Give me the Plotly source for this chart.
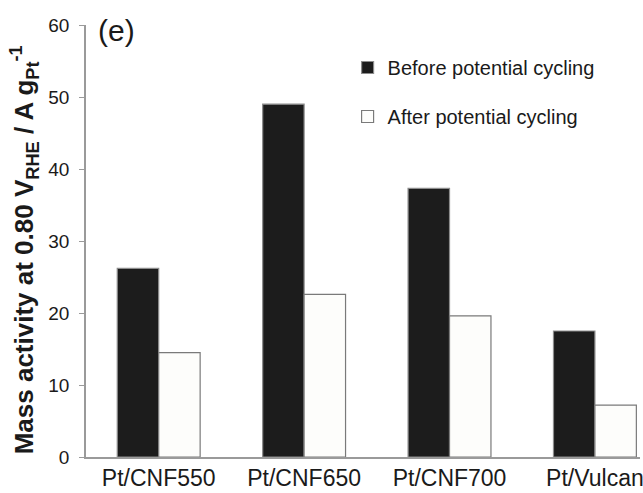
import plotly.graph_objects as go

# Mass activity of Pt catalysts before and after potential cycling
catalysts = ["Pt/CNF550", "Pt/CNF650", "Pt/CNF700", "Pt/Vulcan"]
before_cycling = [26.2, 49.0, 37.3, 17.5]
after_cycling = [14.5, 22.6, 19.6, 7.2]
y_ticks = [0, 10, 20, 30, 40, 50, 60]

W, H = 643, 493
L, R, T, B = 86, 0, 25, 36
PW, PH = W - L - R, H - T - B

fig = go.Figure()
fig.add_trace(go.Bar(
    x=catalysts, y=before_cycling, name="Before potential cycling",
    legendgroup="before",
    marker=dict(color="#1c1c1c", line=dict(color="#8c8c8c", width=1.2)),
))
fig.add_trace(go.Bar(
    x=catalysts, y=after_cycling, name="After potential cycling",
    legendgroup="after",
    marker=dict(color="#fdfdfb", line=dict(color="#7a7a7a", width=1.2)),
))

fig.update_layout(
    width=W, height=H,
    margin=dict(l=L, r=R, t=T, b=B, pad=0),
    paper_bgcolor="white", plot_bgcolor="white",
    barmode="group", bargap=0.43, bargroupgap=0,
    font=dict(family="Liberation Sans, Arial, sans-serif", color="#1a1a1a"),
    showlegend=True,
    legend=dict(
        x=(349 - L) / PW, y=(H - B - 48) / PH,
        xanchor="left", yanchor="top",
        font=dict(size=20, color="#1a1a1a"),
        bgcolor="rgba(0,0,0,0)", borderwidth=0,
        tracegroupgap=20,
    ),
    xaxis=dict(
        range=[-0.5, 3.31],
        showline=True, linecolor="#9a9a9a", linewidth=1.5,
        ticks="", showgrid=False, zeroline=False,
        tickfont=dict(size=23, color="#1a1a1a"),
    ),
    yaxis=dict(
        range=[0, 60], tickvals=y_ticks,
        showline=True, linecolor="#9a9a9a", linewidth=1.5,
        ticks="outside", ticklen=5, tickcolor="#9a9a9a", tickwidth=1.2,
        ticklabelstandoff=6,
        showgrid=False, zeroline=False,
        tickfont=dict(size=19, color="#1a1a1a"),
    ),
)

# Panel label
fig.add_annotation(
    text="(e)", xref="paper", yref="paper",
    x=(96 - L) / PW, y=(H - B - 31) / PH,
    xanchor="left", yanchor="middle", showarrow=False,
    font=dict(size=30, color="#1a1a1a"),
)

# Y-axis title
fig.add_annotation(
    text="<b>Mass activity at 0.80 V<sub>RHE</sub> / A g<sub>Pt</sub><sup>-1</sup></b>",
    xref="paper", yref="paper",
    x=(24 - L) / PW, y=(H - B - 250) / PH,
    xanchor="center", yanchor="middle", textangle=-90, showarrow=False,
    font=dict(size=26, color="#1a1a1a"),
)

fig.write_html("out.html")
